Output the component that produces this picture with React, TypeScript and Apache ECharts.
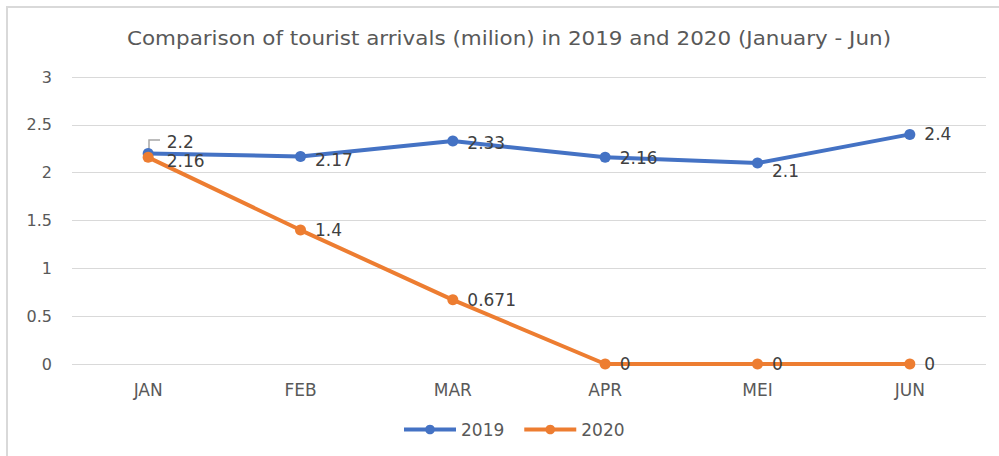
import React, { useEffect, useRef } from "react";
import * as echarts from "echarts";

const categories = ["JAN", "FEB", "MAR", "APR", "MEI", "JUN"];
const values2019 = [2.2, 2.17, 2.33, 2.16, 2.1, 2.4];
const values2020 = [2.16, 1.4, 0.671, 0, 0, 0];
const yTicks = [0, 0.5, 1, 1.5, 2, 2.5, 3];

const titleText = "Comparison of tourist arrivals (milion) in 2019 and 2020 (January - Jun)";

export default function App() {
  const ref = useRef<HTMLDivElement>(null);
  useEffect(() => {
    if (!ref.current) return;
    const chart = echarts.init(ref.current, undefined, { renderer: "svg" });
    const font = "DejaVu Sans";
    const labelBase = {
      show: true,
      position: "right" as const,
      distance: 9,
      color: "#404040",
      fontSize: 17,
      fontFamily: font,
    };
    const labels2019 = values2019.map((v, i) => {
      const lbl: any = { ...labelBase };
      if (i === 0) { lbl.offset = [4, -12]; }
      if (i === 1) { lbl.offset = [0, 4]; }
      if (i === 2) { lbl.offset = [0, 2]; }
      if (i === 3) { lbl.offset = [0, 1]; }
      if (i === 4) { lbl.offset = [0, 8]; }
      if (i === 5) { lbl.offset = [0, 0]; }
      return { value: v, label: lbl };
    });
    const labels2020 = values2020.map((v, i) => {
      const lbl: any = { ...labelBase };
      if (i === 0) lbl.offset = [4, 4];
      return { value: v, label: lbl };
    });
    chart.setOption({
      animation: false,
      backgroundColor: "#ffffff",
      legend: {
        bottom: 13,
        left: 397,
        itemWidth: 52,
        itemHeight: 12,
        itemGap: 18,
        textStyle: { color: "#595959", fontSize: 17, fontFamily: font },
        lineStyle: { width: 4 },
        data: ["2019", "2020"],
      },
      grid: { left: 72, right: 13, top: 77, bottom: 92, containLabel: false },
      xAxis: {
        type: "category",
        data: categories,
        boundaryGap: true,
        axisLine: { show: false },
        axisTick: { show: false },
        axisLabel: { color: "#595959", fontSize: 17, fontFamily: font, margin: 17 },
      },
      yAxis: {
        type: "value",
        min: yTicks[0],
        max: yTicks[yTicks.length - 1],
        interval: 0.5,
        axisLine: { show: false },
        axisTick: { show: false },
        axisLabel: { color: "#595959", fontSize: 16, fontFamily: font, margin: 20 },
        splitLine: { lineStyle: { color: "#d9d9d9", width: 1 } },
      },
      series: [
        {
          name: "2019",
          type: "line",
          data: labels2019,
          symbol: "circle",
          symbolSize: 11,
          color: "#4472c4",
          lineStyle: { width: 4, color: "#4472c4" },
          itemStyle: { color: "#4472c4" },
          z: 2,
        },
        {
          name: "2020",
          type: "line",
          data: labels2020,
          symbol: "circle",
          symbolSize: 11,
          color: "#ed7d31",
          lineStyle: { width: 4, color: "#ed7d31" },
          itemStyle: { color: "#ed7d31" },
          z: 3,
        },
      ],
      graphic: [
        {
          type: "rect",
          shape: { x: 7, y: 7, width: 1010, height: 470 },
          style: { fill: "none", stroke: "#d9d9d9", lineWidth: 2 },
          silent: true,
        },
        {
          type: "text",
          x: 127,
          y: 29,
          scaleX: 1.13,
          style: {
            text: titleText,
            fill: "#595959",
            fontSize: 19,
            fontFamily: font,
            fontWeight: "normal",
          },
          silent: true,
        },
        {
          type: "polyline",
          shape: { points: [[149, 150], [149, 140], [160, 140]] },
          style: { stroke: "#a6a6a6", lineWidth: 1.5, fill: "none" },
          silent: true,
        },
      ],
    });
    return () => chart.dispose();
  }, []);
  return (
    <div
      ref={ref}
      style={{ position: "fixed", left: 0, top: 0, width: 999, height: 456 }}
    />
  );
}
